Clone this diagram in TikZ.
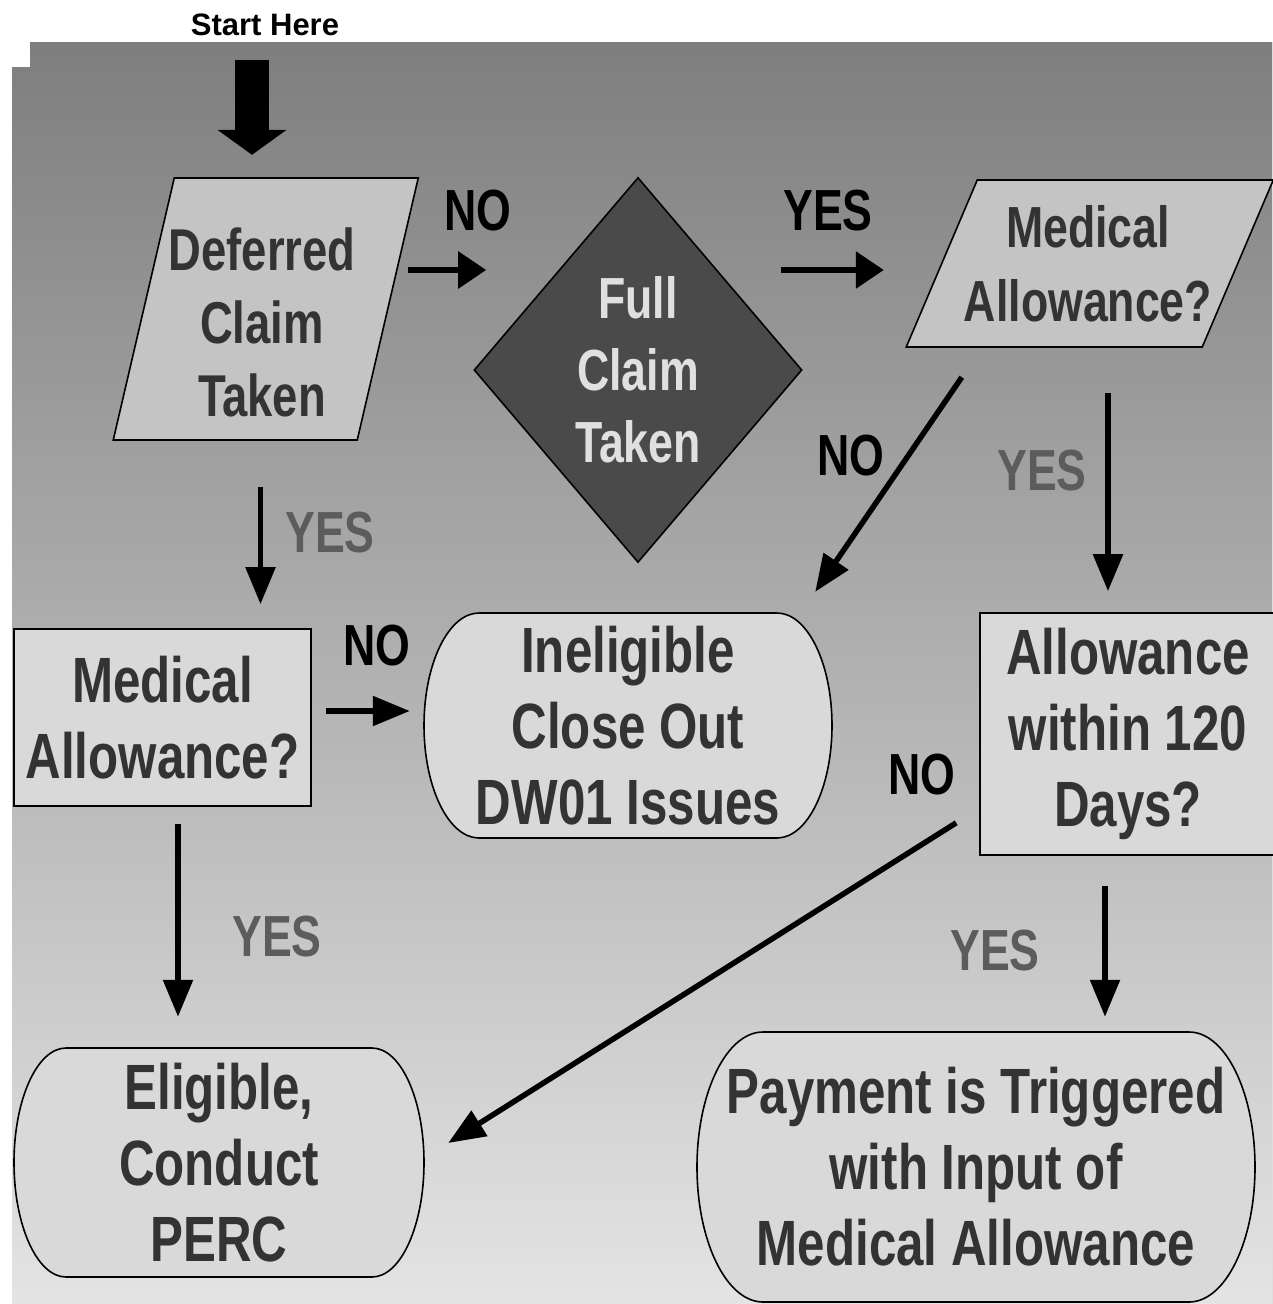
\documentclass[tikz,border=0pt]{standalone}
\usepackage{fontspec}
\setmainfont{Liberation Sans}
\newfontfamily\narrowfont{Liberation Sans}[FakeStretch=0.77]
\usetikzlibrary{shapes.geometric,arrows.meta}
\definecolor{bgtop}{HTML}{7E7E7E}
\definecolor{bgbottom}{HTML}{E4E4E4}
\definecolor{parafill}{HTML}{C4C4C4}
\definecolor{boxfill}{HTML}{D9D9D9}
\definecolor{diamfill}{HTML}{4A4A4A}
\definecolor{diamtext}{HTML}{E0E0E0}
\definecolor{boxtext}{HTML}{333333}
\definecolor{yestext}{HTML}{5C5C5C}
% x, y, half width, half height, end radius
\newcommand{\termshape}[5]{%
  \filldraw[termline] ({#1-#3+#5},{#2-#4}) -- ({#1+#3-#5},{#2-#4})
    arc[start angle=90,end angle=-90,x radius=#5pt,y radius=#4pt]
    -- ({#1-#3+#5},{#2+#4})
    arc[start angle=270,end angle=90,x radius=#5pt,y radius=#4pt] -- cycle;}
% x, y, half width, half height, slant
\newcommand{\parashape}[5]{%
  \filldraw[paraline] ({#1-#3+#5/2},{#2-#4}) -- ({#1+#3+#5/2},{#2-#4})
    -- ({#1+#3-#5/2},{#2+#4}) -- ({#1-#3-#5/2},{#2+#4}) -- cycle;}
\begin{document}
\begin{tikzpicture}[x=1pt,y=-1pt,
    boxfont/.style={font=\narrowfont\bfseries\fontsize{64}{76}\selectfont},
    box/.style={boxfont, draw=black, line width=1.6pt, fill=boxfill, text=boxtext, align=center, inner sep=0pt},
    termline/.style={draw=black, line width=1.6pt, fill=boxfill},
    paraline/.style={termline, fill=parafill},
    termtext/.style={boxfont, text=boxtext, align=center, inner sep=0pt},
    nolabel/.style={font=\narrowfont\bfseries\fontsize{58}{64}\selectfont, text=black, inner sep=0pt},
    yeslabel/.style={nolabel, text=yestext},
    arr/.style={line width=5.5pt, -{Triangle[length=37pt,width=29pt]}},
    arrh/.style={line width=6pt, -{Triangle[length=28pt,width=36pt]}}]
  \useasboundingbox (0,0) rectangle (1272,1304);
  \fill[top color=bgtop, bottom color=bgbottom] (30,42) -- (1272,42) -- (1272,1304) -- (12,1304) -- (12,67) -- (30,67) -- cycle;

  \node[font=\bfseries\fontsize{31}{36}\selectfont, inner sep=0pt] (starttxt) at (265,25) {Start Here};
  \coordinate (start) at (252,60);

  \parashape{265.75}{309}{122}{131}{61}
  \node[termtext, minimum width=244pt, minimum height=262pt,
        font=\narrowfont\bfseries\fontsize{59}{73}\selectfont] (defer) at (262,322) {Deferred\\Claim\\Taken};
  \node[diamond, draw=black, line width=1.6pt, fill=diamfill, text=diamtext,
        shape aspect=0.85, minimum width=328pt, minimum height=385pt, inner sep=0pt, align=center,
        font=\narrowfont\bfseries\fontsize{58}{72}\selectfont] (full) at (638,370) {Full\\Claim\\Taken};
  \parashape{1089.75}{263.5}{148}{83.5}{71}
  \node[termtext, minimum width=296pt, minimum height=167pt,
        font=\narrowfont\bfseries\fontsize{58}{74}\selectfont] (medtop) at (1088,263.5) {Medical\\Allowance?};
  \node[box, minimum width=297pt, minimum height=177pt] (medleft) at (162.5,717.5) {Medical\\Allowance?};
  \termshape{628}{725.5}{204}{112.5}{55}
  \node[termtext, minimum width=408pt, minimum height=225pt] (inel) at (628,725.5) {Ineligible\\Close Out\\DW01 Issues};
  \node[box, minimum width=296pt, minimum height=242pt] (allow) at (1128,734) {Allowance\\within 120\\Days?};
  \termshape{219}{1162.5}{205}{114.5}{52}
  \node[termtext, minimum width=410pt, minimum height=229pt] (elig) at (219,1162.5) {Eligible,\\Conduct\\PERC};
  \termshape{976}{1167}{279}{135}{66}
  \node[termtext, minimum width=558pt, minimum height=270pt] (pay) at (976,1167) {Payment is Triggered\\with Input of\\Medical Allowance};

  \draw[line width=34pt, -{Triangle[length=25pt,width=68pt]}, shorten >=36pt] (start) -- (start |- defer.north);
  \draw[arrh, shorten <=24pt, shorten >=-13pt] (defer.east |- 0,270) -- (full.west |- 0,270);
  \draw[arrh, shorten <=-22pt, shorten >=56pt] (full.east |- 0,270) -- (medtop.west |- 0,270);
  \draw[arr] ([xshift=22pt,yshift=-30pt]medtop.south west) -- ([xshift=-17pt,yshift=21pt]inel.north east);
  \draw[arr, shorten <=46pt, shorten >=21pt] ([xshift=-20pt]allow.north |- medtop.south) -- ([xshift=-20pt]allow.north);
  \draw[arr, shorten <=34pt, shorten >=24pt] ([xshift=98pt]medleft.north |- defer.south) -- ([xshift=98pt]medleft.north);
  \draw[arr, shorten <=14pt, shorten >=14pt] (medleft.east |- 0,711) -- (inel.west |- 0,711);
  \draw[arr, shorten <=17pt, shorten >=31pt] ([xshift=15.5pt]medleft.south) -- ([xshift=15.5pt]medleft.south |- elig.north);
  \draw[arr] ([xshift=-23pt,yshift=33pt]allow.south west) -- ([xshift=24pt,yshift=19.5pt]elig.east);
  \draw[arr, shorten <=30pt, shorten >=15pt] ([xshift=-23pt]allow.south) -- ([xshift=-23pt]allow.south |- pay.north);

  \node[nolabel] (no1) at (478,211) {NO};
  \node[nolabel] (yes1) at (828,211) {YES};
  \node[nolabel] (no2) at (851,456) {NO};
  \node[yeslabel] (yes2) at (1042,471) {YES};
  \node[yeslabel] (yes3) at (330,533) {YES};
  \node[nolabel] (no3) at (377,646) {NO};
  \node[nolabel] (no4) at (922,775) {NO};
  \node[yeslabel] (yes4) at (995,951) {YES};
  \node[yeslabel] (yes5) at (277,937) {YES};
\end{tikzpicture}
\end{document}
